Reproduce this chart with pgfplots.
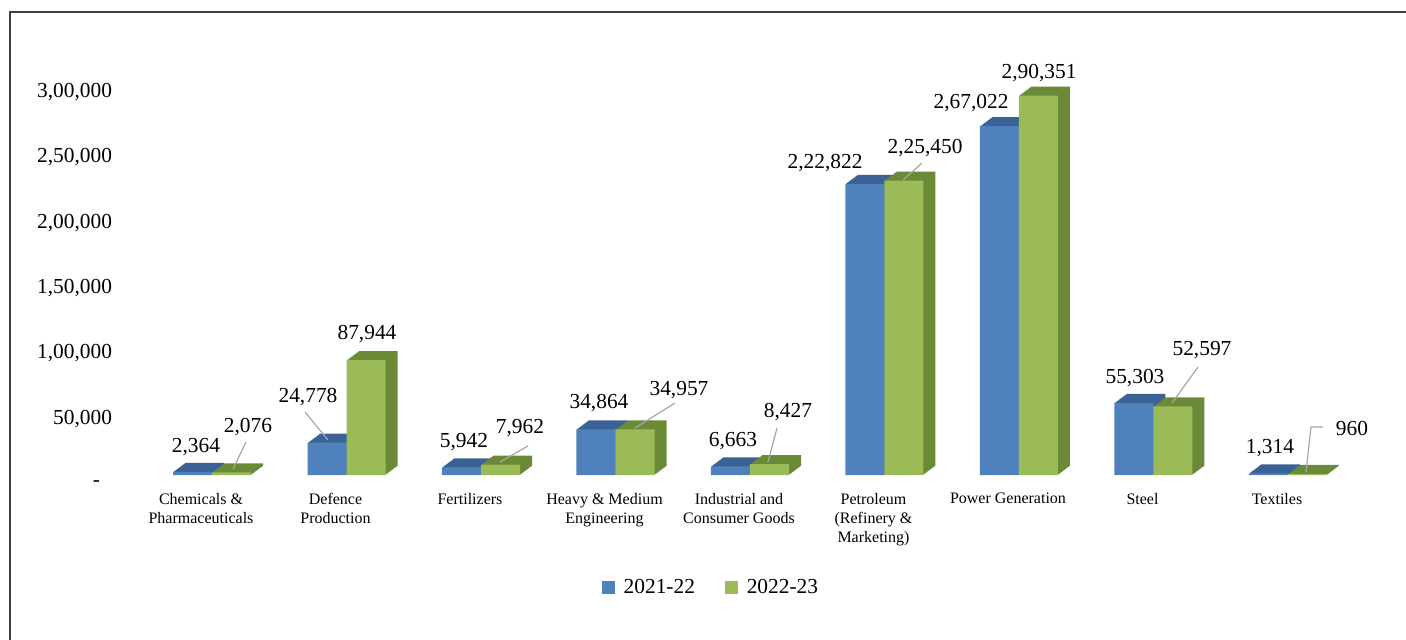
\documentclass[border=0pt]{standalone}
\usepackage{pgfplots}
\pgfplotsset{compat=1.18}
\usepackage{pgfplotstable}
\usepackage{fontspec}
\setmainfont{Liberation Serif}
\definecolor{bluefront}{HTML}{4F81BD}
\definecolor{bluedark}{HTML}{3B6294}
\definecolor{greenfront}{HTML}{9BBB59}
\definecolor{greendark}{HTML}{6B8A37}
\definecolor{leader}{HTML}{A6A6A6}
\pgfplotstableread{
x a b
0 2364 2076
1 24778 87944
2 5942 7962
3 34864 34957
4 6663 8427
5 222822 225450
6 267022 290351
7 55303 52597
8 1314 960
}\data
\begin{document}
\begin{tikzpicture}
\path[use as bounding box] (0,0) rectangle (703pt,-319.5pt);
\begin{axis}[
  scale only axis,
  width=605.25pt, height=209pt,
  at={(72.375pt,-237.5pt)}, anchor=south west,
  xmin=-0.5, xmax=8.5, ymin=0, ymax=320000,
  scaled y ticks=false,
  axis line style={draw=none},
  tick style={draw=none},
  xtick={0,...,8},
  xticklabels={{Chemicals \&\\Pharmaceuticals},{Defence\\Production},{Fertilizers},{Heavy \& Medium\\Engineering},{Industrial and\\Consumer Goods},{Petroleum\\(Refinery \&\\Marketing)},{Power Generation},{Steel},{Textiles}},
  xticklabel style={font=\fontsize{8}{9.5}\selectfont, align=center, xshift=-5.5pt, yshift=-5.5pt},
  ytick={0,50000,100000,150000,200000,250000,300000},
  yticklabels={{-\hspace*{6pt}},{50,000},{1,00,000},{1,50,000},{2,00,000},{2,50,000},{3,00,000}},
  yticklabel style={font=\fontsize{10.7}{12}\selectfont, xshift=-12.8pt, yshift=-4.5pt},
  legend columns=2,
  legend style={draw=none, at={(0.4686,-0.270)}, anchor=center, font=\fontsize{10.7}{12}\selectfont,
    /tikz/every even column/.append style={column sep=13pt}},
]
\pgfplotsinvokeforeach{12,11,...,1}{
  \addplot[ybar, bar width=19.5pt, bar shift=-9.75pt, fill=bluedark, draw=none, forget plot,
    xshift=#1*0.5pt, yshift=#1*0.375pt] table[x=x,y=a]{\data};
}
\addplot[ybar, bar width=19.5pt, bar shift=-9.75pt, fill=bluefront, draw=none, forget plot] table[x=x,y=a]{\data};
\pgfplotsinvokeforeach{12,11,...,1}{
  \addplot[ybar, bar width=19.5pt, bar shift=9.75pt, fill=greendark, draw=none, forget plot,
    xshift=#1*0.5pt, yshift=#1*0.375pt] table[x=x,y=b]{\data};
}
\addplot[ybar, bar width=19.5pt, bar shift=9.75pt, fill=greenfront, draw=none, forget plot] table[x=x,y=b]{\data};
\addlegendimage{legend image code/.code={\fill[bluefront] (0pt,-3pt) rectangle (6pt,3pt); \path (8.5pt,0pt);}}
\addlegendentry{2021-22}
\addlegendimage{legend image code/.code={\fill[greenfront] (0pt,-3pt) rectangle (6pt,3pt); \path (8.5pt,0pt);}}
\addlegendentry{2022-23}
\end{axis}
\begin{scope}[x=0.5pt,y=-0.5pt]
\draw[color=black!75, line width=0.7pt] (10,645) -- (10,12) -- (1410,12);
\draw[leader, line width=0.6pt] (246,442) -- (233,469);
\draw[leader, line width=0.6pt] (305,412) -- (328,440);
\draw[leader, line width=0.6pt] (528,446) -- (500,462);
\draw[leader, line width=0.6pt] (675,403) -- (635,428);
\draw[leader, line width=0.6pt] (777,428) -- (768,462);
\draw[leader, line width=0.6pt] (922,163) -- (903,180);
\draw[leader, line width=0.6pt] (1198,367) -- (1172,403);
\draw[leader, line width=0.6pt] (1323,427) -- (1311,427) -- (1306,472);
\begin{scope}[every node/.style={font=\fontsize{10.7}{12}\selectfont, inner sep=0pt, anchor=center}]
\node at (196,447) {2,364};
\node at (248,427) {2,076};
\node at (308,397) {24,778};
\node at (367,334) {87,944};
\node at (464,442) {5,942};
\node at (520,428) {7,962};
\node at (599,403) {34,864};
\node at (679,390) {34,957};
\node at (733,441) {6,663};
\node at (788,412) {8,427};
\node at (825,163) {2,22,822};
\node at (925,148) {2,25,450};
\node at (971,103) {2,67,022};
\node at (1039,73) {2,90,351};
\node at (1135,378) {55,303};
\node at (1202,350) {52,597};
\node at (1270,448) {1,314};
\node at (1352,428) {960};
\end{scope}
\end{scope}
\end{tikzpicture}
\end{document}
